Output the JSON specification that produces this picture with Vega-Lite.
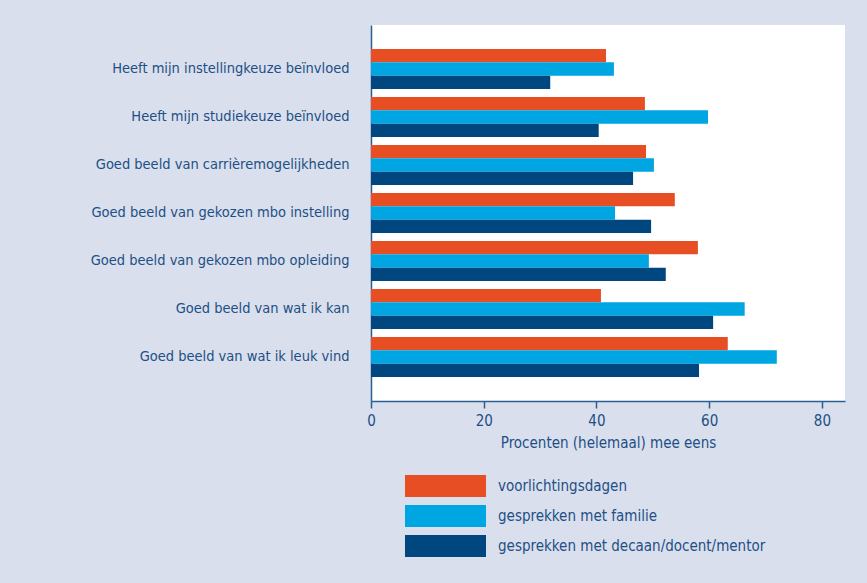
{
  "$schema": "https://vega.github.io/schema/vega-lite/v6.json",
  "autosize": "none",
  "width": 474,
  "height": 376,
  "padding": {"left": 371, "top": 25, "right": 22, "bottom": 182},
  "background": "#d9dfec",
  "view": {"fill": "white", "stroke": null},
  "config": {
    "font": "DejaVu Sans Condensed",
    "axis": {"labelFont": "DejaVu Sans Condensed", "titleFont": "DejaVu Sans Condensed", "labelColor": "#1d4f86", "titleColor": "#1d4f86", "domainColor": "#2b5f92", "tickColor": "#2b5f92", "grid": false},
    "legend": {"labelFont": "DejaVu Sans Condensed", "labelColor": "#1d4f86"}
  },
  "data": {
    "values": [
      {"item": "Heeft mijn instellingkeuze beïnvloed", "bron": "voorlichtingsdagen", "pct": 41.7},
      {"item": "Heeft mijn instellingkeuze beïnvloed", "bron": "gesprekken met familie", "pct": 43.1},
      {"item": "Heeft mijn instellingkeuze beïnvloed", "bron": "gesprekken met decaan/docent/mentor", "pct": 31.8},
      {"item": "Heeft mijn studiekeuze beïnvloed", "bron": "voorlichtingsdagen", "pct": 48.6},
      {"item": "Heeft mijn studiekeuze beïnvloed", "bron": "gesprekken met familie", "pct": 59.8},
      {"item": "Heeft mijn studiekeuze beïnvloed", "bron": "gesprekken met decaan/docent/mentor", "pct": 40.4},
      {"item": "Goed beeld van carrièremogelijkheden", "bron": "voorlichtingsdagen", "pct": 48.8},
      {"item": "Goed beeld van carrièremogelijkheden", "bron": "gesprekken met familie", "pct": 50.2},
      {"item": "Goed beeld van carrièremogelijkheden", "bron": "gesprekken met decaan/docent/mentor", "pct": 46.5},
      {"item": "Goed beeld van gekozen mbo instelling", "bron": "voorlichtingsdagen", "pct": 53.9},
      {"item": "Goed beeld van gekozen mbo instelling", "bron": "gesprekken met familie", "pct": 43.3},
      {"item": "Goed beeld van gekozen mbo instelling", "bron": "gesprekken met decaan/docent/mentor", "pct": 49.7},
      {"item": "Goed beeld van gekozen mbo opleiding", "bron": "voorlichtingsdagen", "pct": 58.0},
      {"item": "Goed beeld van gekozen mbo opleiding", "bron": "gesprekken met familie", "pct": 49.3},
      {"item": "Goed beeld van gekozen mbo opleiding", "bron": "gesprekken met decaan/docent/mentor", "pct": 52.3},
      {"item": "Goed beeld van wat ik kan", "bron": "voorlichtingsdagen", "pct": 40.8},
      {"item": "Goed beeld van wat ik kan", "bron": "gesprekken met familie", "pct": 66.3},
      {"item": "Goed beeld van wat ik kan", "bron": "gesprekken met decaan/docent/mentor", "pct": 60.7},
      {"item": "Goed beeld van wat ik leuk vind", "bron": "voorlichtingsdagen", "pct": 63.3},
      {"item": "Goed beeld van wat ik leuk vind", "bron": "gesprekken met familie", "pct": 72.0},
      {"item": "Goed beeld van wat ik leuk vind", "bron": "gesprekken met decaan/docent/mentor", "pct": 58.2}
    ]
  },
  "mark": {"type": "bar"},
  "encoding": {
    "y": {
      "field": "item", "type": "nominal",
      "sort": ["Heeft mijn instellingkeuze beïnvloed", "Heeft mijn studiekeuze beïnvloed", "Goed beeld van carrièremogelijkheden", "Goed beeld van gekozen mbo instelling", "Goed beeld van gekozen mbo opleiding", "Goed beeld van wat ik kan", "Goed beeld van wat ik leuk vind"],
      "scale": {"paddingInner": 0.1667, "paddingOuter": 0.5},
      "axis": {"title": null, "ticks": false, "labelFontSize": 14.5, "labelPadding": 22, "labelLimit": 400, "domainWidth": 1.5}
    },
    "yOffset": {
      "field": "bron", "type": "nominal",
      "sort": ["voorlichtingsdagen", "gesprekken met familie", "gesprekken met decaan/docent/mentor"],
      "scale": {"paddingInner": 0, "paddingOuter": 0}
    },
    "x": {
      "field": "pct", "type": "quantitative",
      "scale": {"domain": [0, 84.1], "nice": false},
      "axis": {"title": "Procenten (helemaal) mee eens", "values": [0, 20, 40, 60, 80], "labelFlush": false, "tickSize": 7, "tickWidth": 1.5, "domainWidth": 1.5, "labelFontSize": 15, "labelPadding": 5, "titleFontSize": 15, "titleFontWeight": "normal", "titlePadding": 7}
    },
    "color": {
      "field": "bron", "type": "nominal",
      "sort": ["voorlichtingsdagen", "gesprekken met familie", "gesprekken met decaan/docent/mentor"],
      "scale": {"domain": ["voorlichtingsdagen", "gesprekken met familie", "gesprekken met decaan/docent/mentor"], "range": ["#e84e24", "#00a6e2", "#00467f"]},
      "legend": {
        "title": null, "orient": "none", "legendX": 63.5, "legendY": 450,
        "symbolType": "M-3.682,-1H3.682V1H-3.682Z", "symbolSize": 484, "symbolStrokeWidth": 0, "symbolOpacity": 1,
        "labelFontSize": 15, "labelOffset": 41.5, "rowPadding": 8, "labelLimit": 400
      }
    }
  }
}
